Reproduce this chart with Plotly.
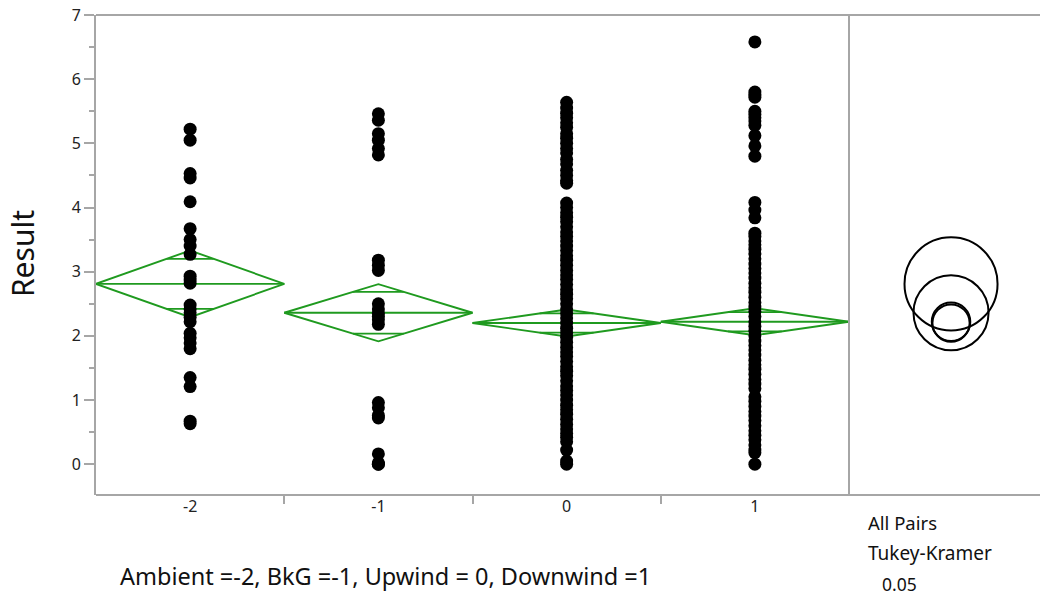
import plotly.graph_objects as go

# ---------------- data ----------------
groups = [-2, -1, 0, 1]
tick_labels = ["-2", "-1", "0", "1"]

vals_m2 = [5.22, 5.05, 4.53, 4.46, 4.09, 3.67, 3.50, 3.40, 3.27, 2.93, 2.87, 2.82,
           2.48, 2.42, 2.36, 2.29, 2.22, 2.04, 1.97, 1.89, 1.80, 1.35, 1.21, 0.67, 0.63]
vals_m1 = [5.46, 5.36, 5.15, 5.05, 4.92, 4.82, 3.18, 3.10, 3.02, 2.50, 2.42, 2.35,
           2.30, 2.25, 2.18, 0.96, 0.88, 0.76, 0.72, 0.16, 0.02, 0.0, 0.0]
vals_0 = [5.64, 5.55, 5.47, 5.40, 5.32, 5.25, 5.15, 5.08, 5.00, 4.92, 4.85, 4.75,
          4.68, 4.58, 4.50, 4.42, 4.38, 4.07, 4.00, 3.92, 3.85, 3.78, 3.70, 3.62,
          3.55, 3.48, 3.40, 3.33, 3.25, 3.18, 3.10, 3.02, 2.95, 2.88, 2.80, 2.72,
          2.65, 2.58, 2.50, 2.42, 2.35, 2.28, 2.20, 2.12, 2.05, 1.98, 1.90, 1.82,
          1.75, 1.68, 1.60, 1.52, 1.45, 1.38, 1.30, 1.22, 1.15, 1.08, 1.00, 0.92,
          0.85, 0.78, 0.70, 0.62, 0.55, 0.48, 0.42, 0.35, 0.22, 0.05, 0.0]
vals_1 = [6.58, 5.80, 5.76, 5.72, 5.50, 5.45, 5.40, 5.35, 5.28, 5.12, 4.96, 4.80,
          4.08, 3.96, 3.84, 3.60, 3.55, 3.48, 3.42, 3.35, 3.28, 3.20, 3.12, 3.05,
          2.98, 2.90, 2.82, 2.75, 2.68, 2.60, 2.52, 2.45, 2.38, 2.30, 2.22, 2.15,
          2.08, 2.00, 1.92, 1.85, 1.78, 1.70, 1.62, 1.55, 1.48, 1.40, 1.32, 1.25,
          1.18, 1.05, 0.98, 0.90, 0.82, 0.75, 0.68, 0.60, 0.52, 0.45, 0.38, 0.30,
          0.22, 0.18, 0.0]
group_values = [vals_m2, vals_m1, vals_0, vals_1]

means = [2.81, 2.36, 2.20, 2.22]
ci_half = [0.52, 0.445, 0.21, 0.21]
overlap_half = [0.39, 0.325, 0.15, 0.15]
circle_radius = [0.725, 0.585, 0.29, 0.30]

y_ticks = [0, 1, 2, 3, 4, 5, 6, 7]

# ---------------- figure ----------------
GREEN = "#1f9a1f"
GRAY = "#a6a6a6"
FONT = "Noto Sans"
LW = 1.9

fig = go.Figure()

half_w = 0.5
for g, m, h, o in zip(groups, means, ci_half, overlap_half):
    fig.add_trace(go.Scatter(
        x=[g - half_w, g, g + half_w, g, g - half_w],
        y=[m, m + h, m, m - h, m],
        mode="lines", line=dict(color=GREEN, width=LW),
        hoverinfo="skip", showlegend=False))
    fig.add_trace(go.Scatter(
        x=[g - half_w, g + half_w], y=[m, m],
        mode="lines", line=dict(color=GREEN, width=LW),
        hoverinfo="skip", showlegend=False))
    frac = half_w * (1 - o / h)
    for s in (1, -1):
        fig.add_trace(go.Scatter(
            x=[g - frac, g + frac], y=[m + s * o, m + s * o],
            mode="lines", line=dict(color=GREEN, width=LW),
            hoverinfo="skip", showlegend=False))

for g, vals in zip(groups, group_values):
    fig.add_trace(go.Scatter(
        x=[g] * len(vals), y=vals, mode="markers",
        marker=dict(color="black", size=13),
        showlegend=False))

circle_x = 1.59
for m, r in zip(means, circle_radius):
    fig.add_shape(type="circle", xref="x2", yref="y",
                  x0=circle_x - r, x1=circle_x + r, y0=m - r, y1=m + r,
                  line=dict(color="black", width=2))

split = (849 - 96) / 944.0
fig.add_shape(type="line", xref="paper", yref="paper", x0=split, x1=split,
              y0=0, y1=1, line=dict(color=GRAY, width=2))
fig.add_shape(type="line", xref="paper", yref="paper", x0=0, x1=1,
              y0=1, y1=1, line=dict(color=GRAY, width=2))
fig.add_shape(type="line", xref="paper", yref="paper", x0=0, x1=1,
              y0=0, y1=0, line=dict(color=GRAY, width=2))

fig.update_layout(
    width=1040, height=596,
    margin=dict(l=96, r=0, t=15, b=101),
    paper_bgcolor="white", plot_bgcolor="white",
    font=dict(family=FONT, size=16, color="#222222"),
    xaxis=dict(domain=[0, split], range=[-2.5, 1.5],
               tickvals=groups, ticktext=tick_labels, ticks="",
               showgrid=False, zeroline=False, showline=False,
               tickfont=dict(size=16),
               minor=dict(tickvals=[-1.5, -0.5, 0.5], ticks="outside",
                          ticklen=8, tickcolor=GRAY, tickwidth=1.5)),
    xaxis2=dict(domain=[split, 1], range=[0, 191 / 64.17], anchor="y",
                showticklabels=False, showgrid=False, zeroline=False,
                showline=False, ticks=""),
    yaxis=dict(range=[-0.48, 7], tickvals=y_ticks, ticks="outside",
               ticklen=10, tickcolor=GRAY, tickwidth=1.5,
               showgrid=False, zeroline=False, showline=True,
               linecolor=GRAY, linewidth=2, tickfont=dict(size=16),
               minor=dict(dtick=0.5, tick0=0, ticks="outside", ticklen=5,
                          tickcolor=GRAY, tickwidth=1.5)),
)

fig.add_annotation(text="Result", xref="paper", yref="paper",
                   x=-0.0784, y=0.504, textangle=-90, showarrow=False,
                   xanchor="center", yanchor="middle",
                   font=dict(size=30, color="#111111"))
fig.add_annotation(text="Ambient =-2, BkG =-1, Upwind = 0, Downwind =1",
                   xref="paper", yref="paper", x=(118 - 96) / 944, y=-0.169,
                   xanchor="left", yanchor="middle", showarrow=False,
                   font=dict(size=23.5, color="#111111"))
fig.add_annotation(text="All Pairs", xref="paper", yref="paper",
                   x=(866 - 96) / 944, y=-0.05625, xanchor="left",
                   yanchor="middle", showarrow=False, font=dict(size=18.5, color="#111111"))
fig.add_annotation(text="Tukey-Kramer", xref="paper", yref="paper",
                   x=(866 - 96) / 944, y=-0.1208, xanchor="left",
                   yanchor="middle", showarrow=False, font=dict(size=19, color="#111111"))
fig.add_annotation(text="0.05", xref="paper", yref="paper",
                   x=(880 - 96) / 944, y=(495 - 584) / 480, xanchor="left",
                   yanchor="middle", showarrow=False, font=dict(size=17.5, color="#111111"))

# the page's default 8px body margin would shift and clip the figure
fig.write_html("out.html",
               config={"displayModeBar": False},
               post_script="document.body.style.margin='0';"
                           "document.body.style.overflow='hidden';")
